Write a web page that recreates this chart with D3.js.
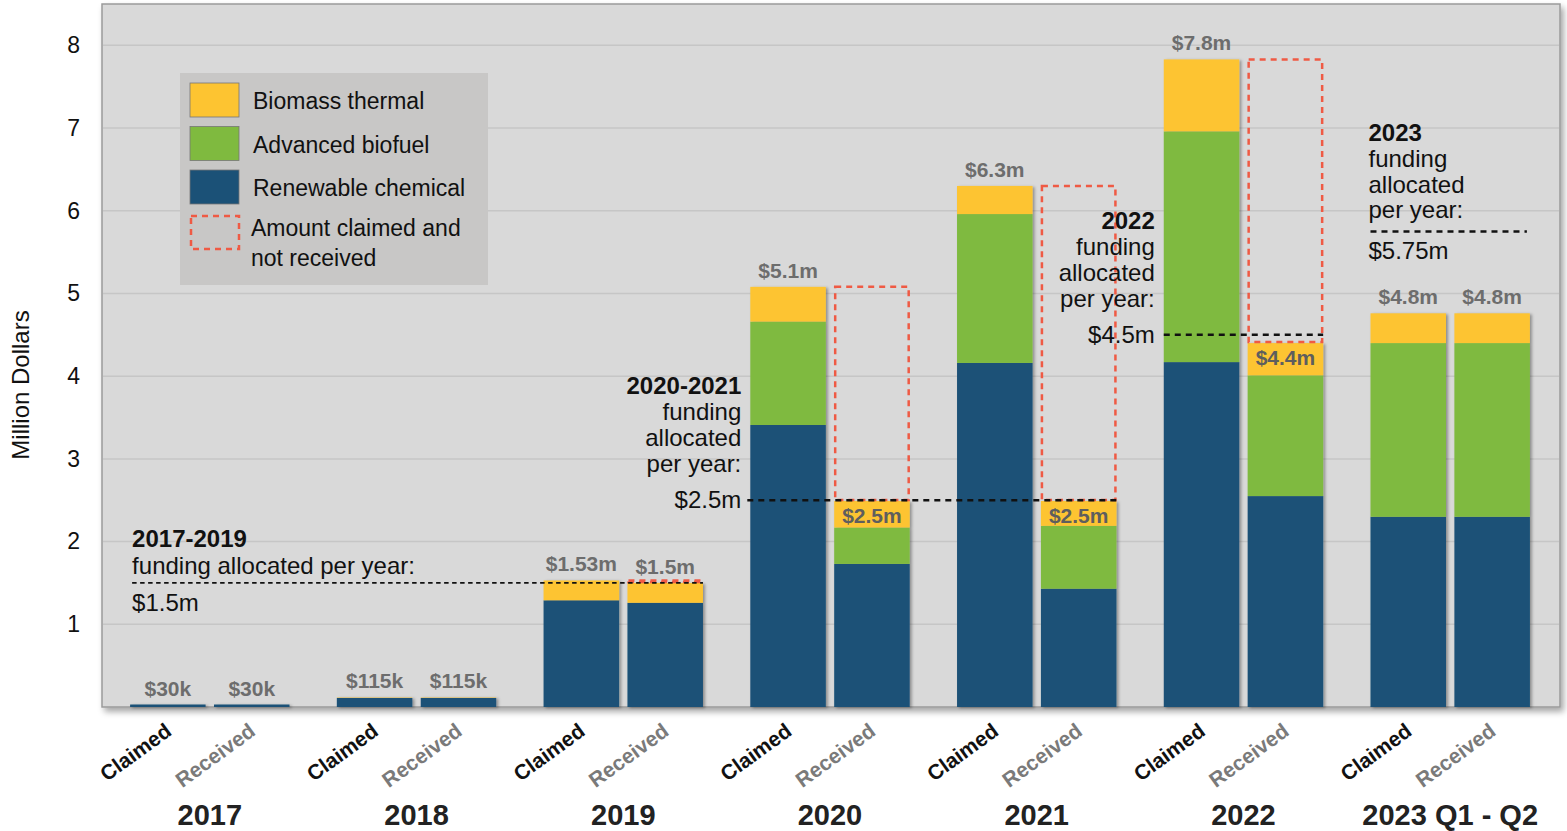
<!DOCTYPE html>
<html>
<head>
<meta charset="utf-8">
<script src="https://cdn.jsdelivr.net/npm/d3@7"></script>
<style>
  body { margin: 0; background: #fff; }
  text { font-family: "Liberation Sans", Arial, sans-serif; }
</style>
</head>
<body>
<div id="chart"></div>
<script>
(function () {

  // ---- data (million dollars) ----
  var years = ['2017', '2018', '2019', '2020', '2021', '2022', '2023 Q1 - Q2']
  var kinds = ['Claimed', 'Received']
  var series = ['renewable', 'advanced', 'biomass']
  var seriesNames = ['Renewable chemical', 'Advanced biofuel', 'Biomass thermal']

  var renewableClaimed  = [0.03, 0.11, 1.29, 3.41, 4.16, 4.17, 2.30]
  var advancedClaimed   = [0, 0, 0, 1.25, 1.80, 2.79, 2.10]
  var biomassClaimed    = [0, 0.005, 0.24, 0.42, 0.34, 0.87, 0.36]
  var renewableReceived = [0.03, 0.11, 1.26, 1.73, 1.43, 2.55, 2.30]
  var advancedReceived  = [0, 0, 0, 0.44, 0.76, 1.46, 2.10]
  var biomassReceived   = [0, 0.005, 0.24, 0.32, 0.30, 0.39, 0.36]

  var labelsClaimed  = ['$30k', '$115k', '$1.53m', '$5.1m', '$6.3m', '$7.8m', '$4.8m']
  var labelsReceived = ['$30k', '$115k', '$1.5m', '$2.5m', '$2.5m', '$4.4m', '$4.8m']

  var yTicks = [1, 2, 3, 4, 5, 6, 7, 8]

  // funding allocated per year
  var fundingSpans  = ['2017-2019', '2020-2021', '2022', '2023']
  var fundingFirst  = ['2017', '2020', '2022', '2023 Q1 - Q2']
  var fundingLast   = ['2019', '2021', '2022', '2023 Q1 - Q2']
  var fundingValues = [1.5, 2.5, 4.5, 5.75]
  var fundingLabels = ['$1.5m', '$2.5m', '$4.5m', '$5.75m']

  var colors = { biomass: '#fdc431', advanced: '#7fba3f', renewable: '#1b5177' }

  var margin = { top: 4, right: 7, bottom: 124, left: 102 }
  var width = 1567 - margin.left - margin.right,
      height = 831 - margin.top - margin.bottom

  var svgRoot = d3.select("#chart").append("svg")
      .attr("width", width + margin.left + margin.right)
      .attr("height", height + margin.top + margin.bottom)

  var defs = svgRoot.append("defs")
  defs.append("filter").attr("id", "plotShadow")
      .attr("x", "-2%").attr("y", "-2%").attr("width", "105%").attr("height", "108%")
    .append("feDropShadow")
      .attr("dx", 3).attr("dy", 4).attr("stdDeviation", 3)
      .attr("flood-color", "#000").attr("flood-opacity", 0.35)
  defs.append("filter").attr("id", "barShadow")
      .attr("x", "-10%").attr("y", "-5%").attr("width", "130%").attr("height", "115%")
    .append("feDropShadow")
      .attr("dx", 2).attr("dy", 1).attr("stdDeviation", 1.5)
      .attr("flood-color", "#000").attr("flood-opacity", 0.35)

  var svg = svgRoot.append("g")
      .attr("transform", "translate(" + margin.left + "," + margin.top + ")")

  // build rows
  var rows = []
  years.forEach(function (yr, i) {
    rows.push({ year: yr, kind: 'Claimed', renewable: renewableClaimed[i], advanced: advancedClaimed[i],
                biomass: biomassClaimed[i], label: labelsClaimed[i] })
    rows.push({ year: yr, kind: 'Received', renewable: renewableReceived[i], advanced: advancedReceived[i],
                biomass: biomassReceived[i], label: labelsReceived[i] })
  })
  rows.forEach(function (d) { d.total = d.renewable + d.advanced + d.biomass })

  var x0 = d3.scaleBand().domain(years).range([0, width - 2])
      .paddingInner(0.229).paddingOuter(0.136)
  var x1 = d3.scaleBand().domain(kinds).range([0, x0.bandwidth()])
      .paddingInner(0.1).paddingOuter(0)
  var y = d3.scaleLinear().domain([0, 8.5]).range([height, 0])

  function barX(d) { return x0(d.year) + x1(d.kind) }

  // plot background
  svg.append("rect")
      .attr("width", width).attr("height", height)
      .attr("fill", "#d9d9d9")
      .attr("stroke", "#9a9a9a").attr("stroke-width", 1.5)
      .attr("filter", "url(#plotShadow)")

  // gridlines
  svg.selectAll(".grid")
      .data(yTicks)
      .enter().append("line")
      .attr("class", "grid")
      .attr("x1", 1).attr("x2", width - 1)
      .attr("y1", function (d) { return y(d) })
      .attr("y2", function (d) { return y(d) })
      .attr("stroke", "#c6c6c6").attr("stroke-width", 1.5)

  // y axis
  var yAxis = svg.append("g")
      .call(d3.axisLeft(y).tickValues(yTicks).tickSize(0).tickPadding(22).tickFormat(d3.format("d")))
  yAxis.select(".domain").remove()
  yAxis.selectAll("text").attr("font-size", 23).attr("fill", "#111")
      .style("font-family", '"Liberation Sans", Arial, sans-serif')

  svgRoot.append("text")
      .attr("transform", "translate(29,385) rotate(-90)")
      .attr("text-anchor", "middle")
      .attr("font-size", 24)
      .attr("fill", "#111")
      .text("Million Dollars")

  // stacked bars
  var stack = d3.stack().keys(series)
  var stacked = stack(rows)

  var barG = svg.append("g").attr("filter", "url(#barShadow)")
  barG.selectAll(".bar-row")
      .data(rows)
      .enter().append("g")
      .attr("class", "bar-row")
      .each(function (d, i) {
        var g = d3.select(this)
        stacked.forEach(function (layer) {
          var seg = layer[i]
          if (seg[1] - seg[0] <= 0) return
          g.append("rect")
            .attr("x", barX(d))
            .attr("width", x1.bandwidth())
            .attr("y", y(seg[1]))
            .attr("height", y(seg[0]) - y(seg[1]))
            .attr("fill", colors[layer.key])
        })
      })

  // claimed but not received boxes
  var gaps = years.map(function (yr) {
    var c = rows.filter(function (d) { return d.year === yr && d.kind === 'Claimed' })[0]
    var r = rows.filter(function (d) { return d.year === yr && d.kind === 'Received' })[0]
    return { year: yr, kind: 'Received', top: c.total, bottom: r.total }
  }).filter(function (d) { return d.top - d.bottom > 0.001 })

  svg.selectAll(".gap-box")
      .data(gaps)
      .enter().append("rect")
      .attr("class", "gap-box")
      .attr("x", function (d) { return barX(d) + 1 })
      .attr("width", x1.bandwidth() - 2)
      .attr("y", function (d) { return y(d.top) })
      .attr("height", function (d) { return y(d.bottom) - y(d.top) - 1 })
      .attr("fill", "none")
      .attr("stroke", "#ef5a44")
      .attr("stroke-width", 2.5)
      .attr("stroke-dasharray", "6,5")

  // funding allocated lines
  fundingValues.forEach(function (v, i) {
    var xa = x0(fundingFirst[i]) + (i === 0 ? 2 : (i === 1 ? -3 : 0))
    var xb = x0(fundingLast[i]) + x0.bandwidth() - (i === 3 ? 3 : 0)
    svg.append("line")
      .attr("x1", xa).attr("x2", xb)
      .attr("y1", y(v)).attr("y2", y(v))
      .attr("stroke", "#111")
      .attr("stroke-width", i === 0 ? 1.8 : 2.6)
      .attr("stroke-dasharray", i === 0 ? "4.5,3.5" : "6,5")
  })

  // value labels
  function isInside(d) {
    return gaps.some(function (g) { return g.year === d.year && d.kind === 'Received' && g.top - g.bottom > 0.5 })
  }
  svg.selectAll(".val-label")
      .data(rows)
      .enter().append("text")
      .attr("class", "val-label")
      .attr("x", function (d) { return barX(d) + x1.bandwidth() / 2 })
      .attr("y", function (d) { return isInside(d) ? y(d.total) + 22 : y(d.total) - 9 })
      .attr("text-anchor", "middle")
      .attr("font-size", 21)
      .attr("font-weight", "bold")
      .attr("fill", function (d) { return isInside(d) ? "#5e5e5e" : "#6d6d6d" })
      .text(function (d) { return d.label })

  // funding annotations
  function addLines(xp, anchor, lines) {
    lines.forEach(function (l) {
      svg.append("text")
        .attr("x", xp).attr("y", l.y)
        .attr("text-anchor", anchor)
        .attr("font-size", 24)
        .attr("font-weight", l.bold ? "bold" : "normal")
        .attr("fill", "#111")
        .text(l.t)
    })
  }

  var ly = y(fundingValues[0])
  addLines(x0(fundingFirst[0]) + 2, "start", [
    { t: fundingSpans[0], y: ly - 36, bold: true },
    { t: "funding allocated per year:", y: ly - 9 },
    { t: fundingLabels[0], y: ly + 28 }
  ])

  ;[1, 2].forEach(function (i) {
    var yy = y(fundingValues[i])
    addLines(x0(fundingFirst[i]) - 9, "end", [
      { t: fundingSpans[i], y: yy - 106, bold: true },
      { t: "funding", y: yy - 80 },
      { t: "allocated", y: yy - 54 },
      { t: "per year:", y: yy - 28 },
      { t: fundingLabels[i], y: yy + 8 }
    ])
  })

  var y3 = y(fundingValues[3])
  addLines(x0(fundingFirst[3]) - 2, "start", [
    { t: fundingSpans[3], y: y3 - 90, bold: true },
    { t: "funding", y: y3 - 64 },
    { t: "allocated", y: y3 - 38 },
    { t: "per year:", y: y3 - 13 },
    { t: fundingLabels[3], y: y3 + 28 }
  ])

  // legend
  var legend = svg.append("g").attr("transform", "translate(78,69)")
  legend.append("rect")
      .attr("width", 308).attr("height", 212)
      .attr("fill", "#c8c7c6")
  var legendKeys = ['biomass', 'advanced', 'renewable']
  legendKeys.forEach(function (k, i) {
    legend.append("rect")
      .attr("x", 10).attr("y", 10 + i * 43.5)
      .attr("width", 49).attr("height", 34)
      .attr("fill", colors[k])
      .attr("stroke", "#777").attr("stroke-width", 0.8)
    legend.append("text")
      .attr("x", 73).attr("y", 36 + i * 43.5)
      .attr("font-size", 23).attr("fill", "#111")
      .text(seriesNames[series.indexOf(k)])
  })
  legend.append("rect")
      .attr("x", 11).attr("y", 143)
      .attr("width", 48).attr("height", 33)
      .attr("fill", "none")
      .attr("stroke", "#ef5a44").attr("stroke-width", 2.5)
      .attr("stroke-dasharray", "6,5")
  legend.append("text").attr("x", 71).attr("y", 163)
      .attr("font-size", 23).attr("fill", "#111").text("Amount claimed and")
  legend.append("text").attr("x", 71).attr("y", 193)
      .attr("font-size", 23).attr("fill", "#111").text("not received")

  // x labels
  svg.selectAll(".kind-label")
      .data(rows)
      .enter().append("text")
      .attr("class", "kind-label")
      .attr("transform", function (d) {
        return "translate(" + (barX(d) + x1.bandwidth() / 2 + 5) + "," + (height + 27) + ") rotate(-36)"
      })
      .attr("text-anchor", "end")
      .attr("font-size", 21)
      .attr("font-weight", "bold")
      .attr("fill", function (d) { return d.kind === 'Claimed' ? "#111" : "#7a7a7a" })
      .text(function (d) { return d.kind })

  svg.selectAll(".year-label")
      .data(years)
      .enter().append("text")
      .attr("class", "year-label")
      .attr("x", function (d) { return x0(d) + x0.bandwidth() / 2 })
      .attr("y", height + 118)
      .attr("text-anchor", "middle")
      .attr("font-size", 29)
      .attr("font-weight", "bold")
      .attr("fill", "#222")
      .text(function (d) { return d })

})()
</script>
</body>
</html>
